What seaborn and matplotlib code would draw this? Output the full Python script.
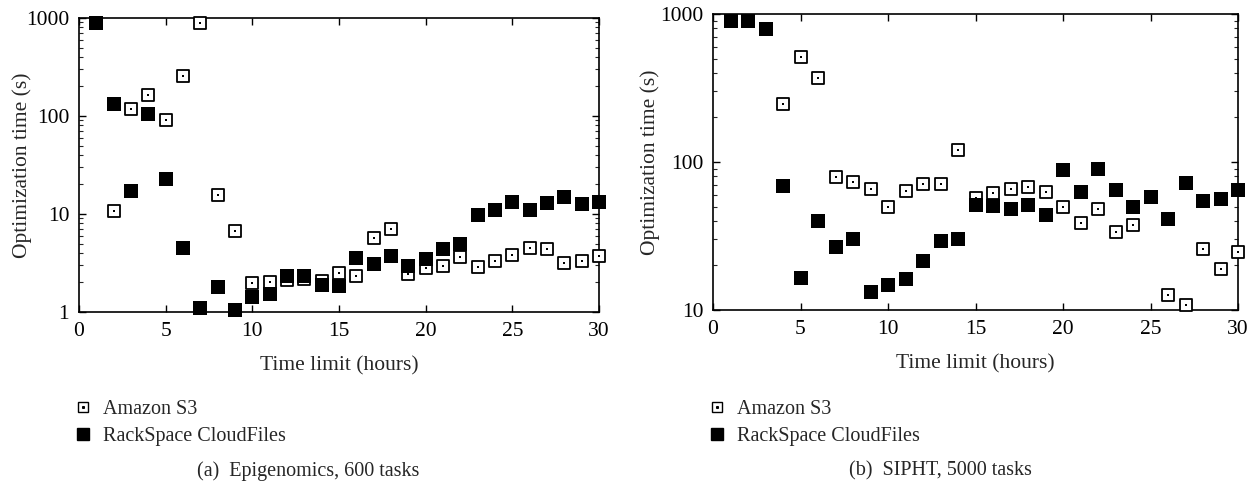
import numpy as np
import pandas as pd
import matplotlib
matplotlib.use("Agg")
import matplotlib.pyplot as plt
import seaborn as sns
from matplotlib.lines import Line2D
from matplotlib.legend_handler import HandlerTuple
from matplotlib.ticker import LogLocator, NullFormatter, FixedLocator

hours = list(range(1, 31))

# (a) Epigenomics, 600 tasks
epi_s3_hours = list(range(2, 31))
epi_s3 = [10.8, 119, 165, 92, 258, 898, 15.8, 6.66, 1.98, 2.02, 2.1, 2.15, 2.05, 2.5,
          2.35, 5.65, 7.03, 2.43, 2.81, 2.93, 3.62, 2.88, 3.31, 3.82, 4.5, 4.43, 3.16, 3.35, 3.76]
epi_rs = [898, 132, 17.3, 106, 22.6, 4.54, 1.09, 1.8, 1.05, 1.42, 1.52, 2.33, 2.35, 1.87,
          1.83, 3.56, 3.09, 3.7, 2.94, 3.45, 4.43, 4.91, 9.86, 11.0, 13.2, 11.1, 13.1, 14.8, 12.6, 13.3]

# (b) SIPHT, 5000 tasks
sip_s3_hours = list(range(4, 31))
sip_s3 = [246, 512, 369, 79.5, 73.6, 65.7, 49.9, 63.7, 71, 71, 120, 57.4, 62, 65.7, 67.4,
          62.4, 49.4, 38.9, 47.9, 33.7, 37.3, 58, 12.6, 10.8, 25.9, 18.8, 24.5]
sip_rs = [901, 901, 796, 69.2, 16.5, 39.9, 26.6, 30.2, 13.2, 14.7, 16.3, 21.4, 29.4, 30.3,
          51.5, 50.7, 48.4, 51.2, 44, 88.3, 62.7, 89.7, 64.7, 49.6, 57.7, 41.4, 71.8, 54.2, 56.2, 64.7]

series_names = ["Amazon S3", "RackSpace CloudFiles"]
captions = ["(a)  Epigenomics, 600 tasks", "(b)  SIPHT, 5000 tasks"]
xlabel = "Time limit (hours)"
ylabel = "Optimization time (s)"

sns.set_theme(style="ticks")
plt.rcParams["font.family"] = ["Liberation Serif", "DejaVu Serif"]

fig = plt.figure(figsize=(12.55, 4.87), dpi=100)
W, H = 1255, 487
ax1 = fig.add_axes([79 / W, 1 - 312 / H, 520 / W, 294 / H])
ax2 = fig.add_axes([713 / W, 1 - 310 / H, 525 / W, 296 / H])

panels = [
    (ax1, epi_s3_hours, epi_s3, epi_rs, (1, 1000), [1, 10, 100, 1000], ["1", "10", "100", "1000"], -4),
    (ax2, sip_s3_hours, sip_s3, sip_rs, (10, 1000), [10, 100, 1000], ["10", "100", "1000"], 0),
]

FS = 15.5
for ax, s3h, s3, rs, ylim, yt, ytl, ylp in panels:
    df_rs = pd.DataFrame({"hours": hours, "time": rs})
    df_s3 = pd.DataFrame({"hours": s3h, "time": s3})
    sns.scatterplot(data=df_s3, x="hours", y="time", ax=ax, marker="s", s=70,
                    facecolor="white", edgecolor="black", linewidth=1.3, zorder=3, clip_on=False)
    sns.scatterplot(data=df_s3, x="hours", y="time", ax=ax, marker="s", s=2,
                    color="black", linewidth=0, zorder=4, clip_on=False)
    sns.scatterplot(data=df_rs, x="hours", y="time", ax=ax, marker="s", s=110,
                    color="black", linewidth=0, zorder=5, clip_on=False)
    ax.set_yscale("log")
    ax.set_xlim(0, 30)
    ax.set_ylim(*ylim)
    ax.set_xticks([0, 5, 10, 15, 20, 25, 30])
    ax.set_xticklabels(["0", "5", "10", "15", "20", "25", "30"], fontsize=FS)
    ax.yaxis.set_major_locator(FixedLocator(yt))
    ax.set_yticklabels(ytl, fontsize=FS)
    ax.yaxis.set_minor_locator(LogLocator(base=10, subs=np.arange(2, 10)))
    ax.yaxis.set_minor_formatter(NullFormatter())
    ax.tick_params(axis="both", which="major", direction="in", length=5, width=1,
                   top=True, right=True, colors="black")
    ax.tick_params(axis="y", which="major", pad=7)
    ax.tick_params(axis="x", which="major", pad=7.5)
    ax.tick_params(axis="y", which="minor", direction="in", length=3, width=0.8,
                   left=True, right=True)
    for sp in ax.spines.values():
        sp.set_linewidth(1.2)
        sp.set_color("black")
    ax.set_xlabel(xlabel, fontsize=FS, labelpad=11)
    ax.set_ylabel(ylabel, fontsize=FS, labelpad=ylp)

# legends
s3_handle = (Line2D([], [], marker="s", linestyle="none", markersize=7, markerfacecolor="white",
                    markeredgecolor="black", markeredgewidth=1.0),
             Line2D([], [], marker="s", linestyle="none", markersize=1.2, color="black"))
rs_handle = Line2D([], [], marker="s", linestyle="none", markersize=8, color="black")

for ax, cap, capx in [(ax1, captions[0], 308 / W), (ax2, captions[1], 940 / W)]:
    pos = ax.get_position()
    leg = fig.legend([s3_handle, rs_handle], series_names,
                     handler_map={tuple: HandlerTuple(ndivide=1, pad=0)},
                     loc="upper left", bbox_to_anchor=(pos.x0 - 14 / W, 1 - 392 / H),
                     frameon=False, fontsize=14.5, handlelength=1.0, handletextpad=0.5,
                     labelspacing=0.4, borderaxespad=0)
    fig.text(capx, 1 - 471 / H, cap, ha="center", va="center", fontsize=14.5)

fig.savefig("out.png", dpi=100)
